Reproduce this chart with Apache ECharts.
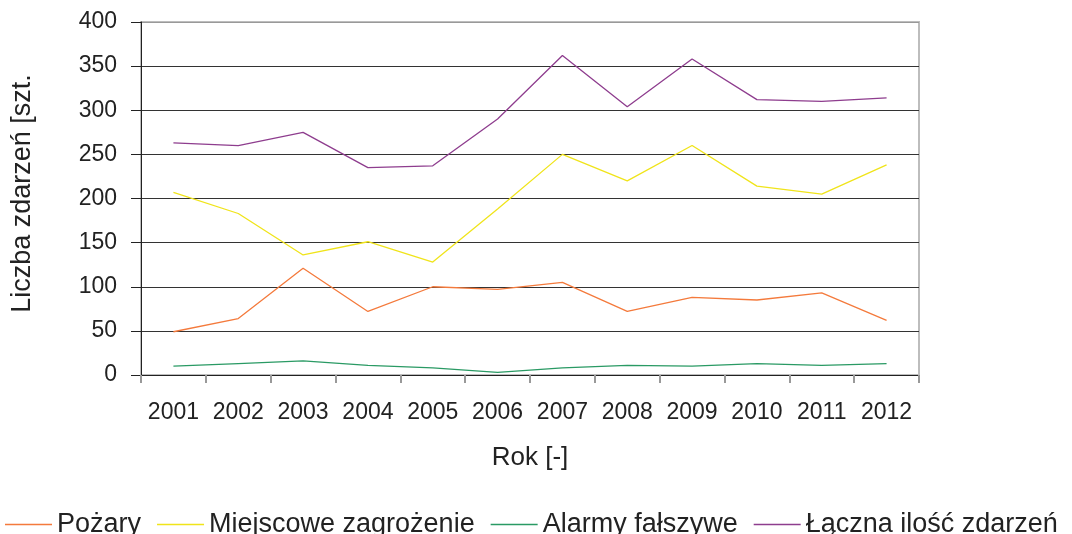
<!DOCTYPE html>
<html>
<head>
<meta charset="utf-8">
<script src="https://cdn.jsdelivr.net/npm/echarts@6/dist/echarts.min.js"></script>
<style>
html,body{margin:0;padding:0;background:#fff;}
#chart{width:1072px;height:534px;}
</style>
</head>
<body>
<div id="chart"></div>
<script>
var years = ['2001','2002','2003','2004','2005','2006','2007','2008','2009','2010','2011','2012'];
var pozary = [49, 64, 121, 72, 100, 97, 105, 72, 88, 85, 93, 62];
var miejscowe = [207, 183, 136, 151, 128, 188, 250, 220, 260, 214, 205, 238];
var alarmy = [10, 13, 16, 11, 8, 3, 8, 11, 10, 13, 11, 13];
var laczna = [263, 260, 275, 235, 237, 290, 362, 304, 358, 312, 310, 314];
var yTicks = [0, 400, 50];

var chart = echarts.init(document.getElementById('chart'));
var txt = '#222';
var option = {
	backgroundColor: '#fff',
	animation: false,
	textStyle: { fontFamily: 'Liberation Sans, Arial, sans-serif' },
	grid: {
		left: 141, right: 153, top: 22, bottom: 159,
		show: true, borderColor: '#bdbdbd', borderWidth: 2
	},
	legend: {
		left: 0, top: 506,
		icon: 'rect',
		itemWidth: 47, itemHeight: 1.5, itemGap: 16,
		textStyle: { fontSize: 27, color: txt },
		data: ['Pożary', 'Miejscowe zagrożenie', 'Alarmy fałszywe', 'Łączna ilość zdarzeń']
	},
	xAxis: {
		type: 'category',
		data: years,
		boundaryGap: true,
		name: 'Rok [-]',
		nameLocation: 'middle',
		nameGap: 70,
		nameTextStyle: { fontSize: 26, color: txt },
		axisLine: { lineStyle: { color: '#222', width: 1 } },
		axisTick: { show: true, interval: 0, length: 8, lineStyle: { color: '#999', width: 2 } },
		axisLabel: { fontSize: 23, color: txt, margin: 26, interval: 0 }
	},
	yAxis: {
		type: 'value',
		min: yTicks[0], max: yTicks[1], interval: yTicks[2],
		name: 'Liczba zdarzeń [szt.',
		nameLocation: 'middle',
		nameRotate: 90,
		nameGap: 105,
		nameTextStyle: { fontSize: 27, color: txt, padding: [0, 0, 0, 10] },
		axisLine: { show: true, lineStyle: { color: '#222', width: 1 } },
		axisTick: { show: true, length: 10, lineStyle: { color: '#222' } },
		axisLabel: { fontSize: 23, color: txt, margin: 24 },
		splitLine: { lineStyle: { color: ['#333','#333','#333','#333','#333','#333','#333','#333','#999'], width: 1 } }
	},
	series: [
		{ name: 'Pożary', type: 'line', data: pozary, symbol: 'none', lineStyle: { width: 1.3, color: '#f47a3c' }, itemStyle: { color: '#f47a3c' } },
		{ name: 'Miejscowe zagrożenie', type: 'line', data: miejscowe, symbol: 'none', lineStyle: { width: 1.3, color: '#f0e41a' }, itemStyle: { color: '#f0e41a' } },
		{ name: 'Alarmy fałszywe', type: 'line', data: alarmy, symbol: 'none', lineStyle: { width: 1.3, color: '#2a9a64' }, itemStyle: { color: '#2a9a64' } },
		{ name: 'Łączna ilość zdarzeń', type: 'line', data: laczna, symbol: 'none', lineStyle: { width: 1.3, color: '#8e3d8e' }, itemStyle: { color: '#8e3d8e' } }
	]
};
chart.setOption(option);
</script>
</body>
</html>
